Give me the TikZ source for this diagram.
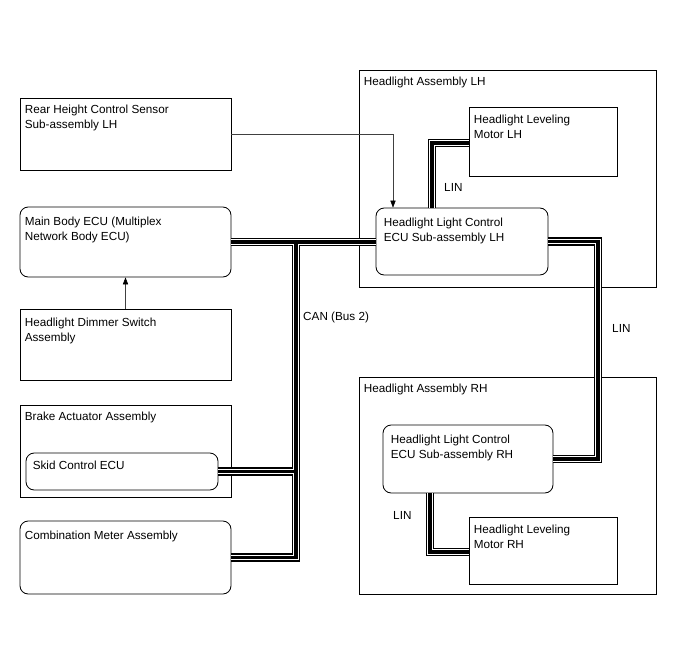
\documentclass[tikz,border=0pt]{standalone}
\usepackage{fontspec}
\setmainfont{Liberation Sans}
\usetikzlibrary{arrows.meta,fit,calc}

\tikzset{
  box/.style={draw, line width=0.7pt, inner sep=0pt},
  ecu/.style={box, rounded corners=7pt},
  txt/.style={anchor=north west, align=left, inner sep=0pt, font=\fontsize{10}{13}\selectfont},
  lbl/.style={anchor=west, inner sep=0pt, font=\fontsize{10}{13}\selectfont},
  sig/.style={draw=black!75, line width=0.5pt, -{Triangle[length=6pt,width=4.5pt,black]}},
  busout/.style={line width=7.4pt, line join=miter},
  busmid/.style={line width=5pt, white, line join=miter},
  busin/.style={line width=2.8pt, line join=miter},
}

\newcommand\canpath{(main.east) -- (ecuL.west |- main.east)
  (canT) -- (canB) -- (cmb.east)
  (skid.east) -- (canT |- skid.east)}
\newcommand\linpath{(ecuL.north -| linA) -- (linA) -- (linA -| motL.west)
  (ecuL.east) -- (ecuL.east -| linB) -- (linB |- ecuR.east) -- (ecuR.east)
  (ecuR.south -| linC) -- (linC) -- (linC -| motR.west)}

\begin{document}
\begin{tikzpicture}[x=0.03cm,y=-0.03cm]
\useasboundingbox (0,0) rectangle (688,658);

\node[box, fit={(20,98) (231,170)}] (rear) {};
\node[ecu, fit={(20,207) (231,277)}] (main) {};
\node[box, fit={(20,309) (231,380)}] (dim) {};
\node[box, fit={(20,405) (231,497)}] (brk) {};
\node[ecu, fit={(26,453) (218,490)}] (skid) {};
\node[ecu, fit={(20,521) (231,594)}] (cmb) {};

\node[box, fit={(359,70) (656,287)}] (hlL) {};
\node[box, fit={(469,107) (617,176)}] (motL) {};
\node[ecu, fill=white, fit={(376,208) (548,275)}] (ecuL) {};
\node[box, fit={(359,377) (656,594)}] (hlR) {};
\node[ecu, fill=white, fit={(383,425) (553,493)}] (ecuR) {};
\node[box, fit={(469,517) (617,584)}] (motR) {};

\coordinate (canT) at (296,0 |- main.east);
\coordinate (canB) at (canT |- cmb.east);
\coordinate (linA) at (432,143);
\coordinate (linB) at (598,0);
\coordinate (linC) at (430,552);

\draw[sig] (rear.east) -- (rear.east -| 393,0) -- (393,0 |- ecuL.north);
\draw[sig] (dim.north) -- (main.south);

\draw[busout] \canpath;
\draw[busmid] \canpath;
\draw[busin] \canpath;
\draw[busout] \linpath;
\draw[busmid] \linpath;
\draw[busin] \linpath;

\node[txt] at ([shift={(5,7)}]rear.north west) {Rear Height Control Sensor\\Sub-assembly LH};
\node[txt] at ([shift={(5,10)}]main.north west) {Main Body ECU (Multiplex\\Network Body ECU)};
\node[txt] at ([shift={(5,9)}]dim.north west) {Headlight Dimmer Switch\\Assembly};
\node[txt] at ([shift={(5,7)}]brk.north west) {Brake Actuator Assembly};
\node[txt] at ([shift={(7,8)}]skid.north west) {Skid Control ECU};
\node[txt] at ([shift={(5,10)}]cmb.north west) {Combination Meter Assembly};
\node[txt] at ([shift={(5,7)}]hlL.north west) {Headlight Assembly LH};
\node[txt] at ([shift={(5,8)}]motL.north west) {Headlight Leveling\\Motor LH};
\node[txt] at ([shift={(8,10)}]ecuL.north west) {Headlight Light Control\\ECU Sub-assembly LH};
\node[txt] at ([shift={(5,7)}]hlR.north west) {Headlight Assembly RH};
\node[txt] at ([shift={(8,10)}]ecuR.north west) {Headlight Light Control\\ECU Sub-assembly RH};
\node[txt] at ([shift={(5,8)}]motR.north west) {Headlight Leveling\\Motor RH};

\node[lbl] (canlbl) at (303,317) {CAN (Bus 2)};
\node[lbl] (linlblA) at (444,187) {LIN};
\node[lbl] (linlblB) at (612,328) {LIN};
\node[lbl] (linlblC) at (393,515) {LIN};
\end{tikzpicture}
\end{document}
